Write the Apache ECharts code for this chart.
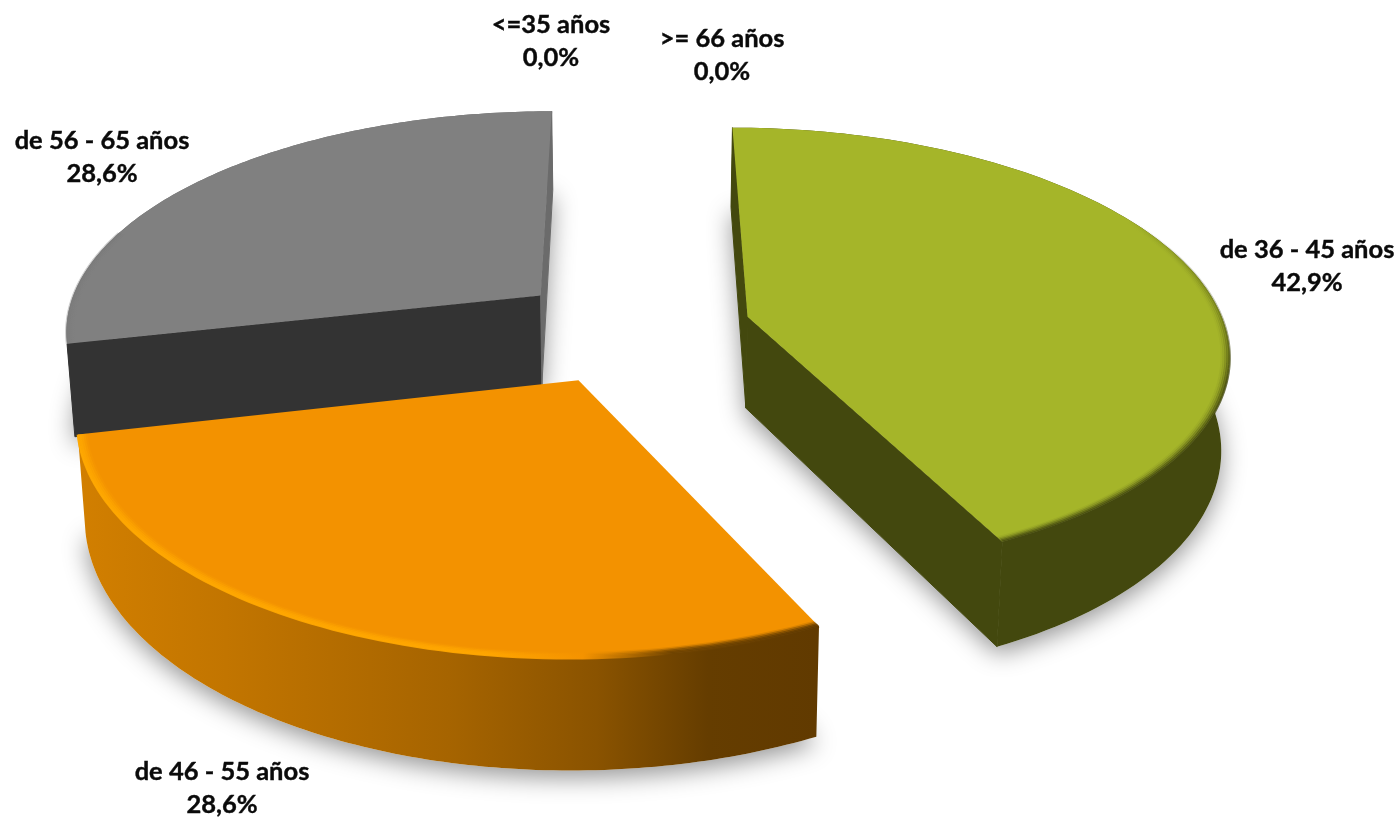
<!DOCTYPE html>
<html>
<head>
<meta charset="utf-8">
<script src="https://cdn.jsdelivr.net/npm/echarts@6/dist/echarts.min.js"></script>
<style>
  html, body { margin: 0; padding: 0; background: #ffffff; }
  #chart { width: 1399px; height: 819px; }
</style>
</head>
<body>
<div id="chart"></div>
<script>
// data
var categories = ['<=35 años', 'de 36 - 45 años', 'de 46 - 55 años', 'de 56 - 65 años', '>= 66 años'];
var shares = [0, 42.9, 28.6, 28.6, 0];

// look of each slice, same order as categories
var topColors = ['#808080', '#a5b529', '#f39200', '#808080', '#808080'];
var startCutColors = ['#333333', '#43480e', '#6a3f00', '#333333', '#333333'];
var endCutColors = ['#333333', '#43480e', '#6a3f00', '#6b6b6b', '#333333'];
var wallStops = [
  null,
  [[0, '#43480e'], [1, '#43480e']],
  [[0, '#d27f00'], [0.2, '#c27500'], [0.5, '#a66400'], [0.7, '#8a5300'], [0.85, '#653d00'], [1, '#613a00']],
  [[0, '#6b6b6b'], [1, '#6b6b6b']],
  null
];
var rimStops = [
  null,
  [[0, 'rgba(67,72,14,0)'], [0.3, 'rgba(67,72,14,0.45)'], [0.5, '#43480e'], [1, '#43480e']],
  [[0, '#ffa800'], [0.55, '#ffa600'], [0.68, '#f59300'], [0.8, '#6f4300'], [1, '#5f3900']],
  [[0, 'rgba(118,118,118,0.7)'], [1, 'rgba(118,118,118,0.7)']],
  null
];
var rimVertical = [false, true, false, true, false];
// where the rim runs, as part of the slice
var rimRanges = [null, [0.4, 1], [0, 1], [0, 0.3], null];
var rimFades = [
  null,
  [0.8, 0.6, 0.36, 0.18, 0.07],
  [0.95, 0.85, 0.65, 0.4, 0.15],
  [0.5, 0.4, 0.25, 0.12, 0.05],
  null
];
var labelCenters = [[551, 25], [1307, 250], [222, 772], [102, 141], [722, 39]];

// projection of the tilted plate
var vanishX = 629, vanishY = -1170;
var centerX = 632, centerY = 329;
var radiusX = 478, perspective = 0.147, explode = 0.25;
var depth = 92, lean = 0.014;

var total = shares.reduce(function (a, b) { return a + b; }, 0);

function angleOf(index) {
  var sum = 0;
  for (var i = 0; i < index; i++) sum += shares[i];
  return sum / total * Math.PI * 2;
}

function project(x, y) {
  var h = 1 / (1 + perspective * y);
  return {
    x: vanishX + (centerX - vanishX + radiusX * x) * h,
    y: vanishY + (centerY - vanishY) * h,
    h: h
  };
}

function lower(p) {
  return [p.x + (vanishX - p.x) * lean, p.y + depth * p.h];
}

function area(pts) {
  var s = 0;
  for (var i = 0; i < pts.length; i++) {
    var a = pts[i], b = pts[(i + 1) % pts.length];
    s += a[0] * b[1] - b[0] * a[1];
  }
  return s;
}

function gradient(stops, vertical) {
  return {
    type: 'linear', x: 0, y: 0, x2: vertical ? 0 : 1, y2: vertical ? 1 : 0,
    colorStops: stops.map(function (s) { return { offset: s[0], color: s[1] }; })
  };
}

function renderSlice(params, api) {
  var index = api.value(0);
  var value = api.value(1);
  var children = [];
  var center = labelCenters[index];

  children.push({
    type: 'text',
    z2: 300,
    style: {
      x: center[0], y: center[1] - 17,
      text: categories[index] + '\n' + value.toFixed(1).replace('.', ',') + '%',
      font: 'bold 25.5px Lato',
      lineHeight: 33,
      fill: '#0a0a0a',
      stroke: '#0a0a0a',
      lineWidth: 0.4,
      align: 'center',
      verticalAlign: 'top'
    }
  });
  if (value <= 0) {
    return { type: 'group', children: children };
  }

  var from = angleOf(index);
  var to = from + value / total * Math.PI * 2;
  var mid = (from + to) / 2;
  var ox = explode * Math.sin(mid), oy = explode * Math.cos(mid);
  var layer = 10 * Math.round((1 - Math.cos(mid)) * 10);

  var apex = project(ox, oy);
  var arcTop = [], arcLow = [];
  var steps = 120;
  for (var i = 0; i <= steps; i++) {
    var t = from + (to - from) * i / steps;
    var p = project(ox + Math.sin(t), oy + Math.cos(t));
    arcTop.push([p.x, p.y]);
    arcLow.push(lower(p));
  }
  var apexTop = [apex.x, apex.y], apexLow = lower(apex);

  // soft shadow under the slice
  children.push({
    type: 'polygon',
    z2: 1,
    shape: { points: [apexLow].concat(arcLow) },
    style: { fill: '#ffffff', shadowBlur: 24, shadowColor: 'rgba(0,0,0,0.42)', shadowOffsetY: 7 }
  });

  // outer wall
  children.push({
    type: 'polygon',
    z2: layer + 2,
    shape: { points: arcTop.concat(arcLow.slice().reverse()) },
    style: { fill: gradient(wallStops[index], false) }
  });

  // cut faces, only the ones turned to the viewer
  var startCut = [apexTop, arcTop[0], arcLow[0], apexLow];
  var endCut = [apexTop, arcTop[steps], arcLow[steps], apexLow];
  if (area(startCut) < 0) {
    children.push({
      type: 'polygon', z2: layer + 3, shape: { points: startCut },
      style: { fill: startCutColors[index], stroke: startCutColors[index], lineWidth: 1 }
    });
  }
  if (area(endCut) > 0) {
    children.push({
      type: 'polygon', z2: layer + 3, shape: { points: endCut },
      style: { fill: endCutColors[index], stroke: endCutColors[index], lineWidth: 1 }
    });
  }

  // top face
  children.push({
    type: 'polygon',
    z2: layer + 4,
    shape: { points: [apexTop].concat(arcTop) },
    style: { fill: topColors[index] }
  });

  // bevel at the rim, fading inwards
  var span = to - from;
  var rimFrom = from + span * rimRanges[index][0];
  var rimTo = from + span * rimRanges[index][1];
  rimFades[index].forEach(function (fade, b) {
    var r = 1 - b * 0.004;
    var pts = [];
    for (var j = 0; j <= 80; j++) {
      var a = rimFrom + (rimTo - rimFrom) * j / 80;
      var q = project(ox + r * Math.sin(a), oy + r * Math.cos(a));
      pts.push([q.x, q.y]);
    }
    children.push({
      type: 'polyline',
      z2: layer + 5,
      shape: { points: pts },
      style: { fill: null, stroke: gradient(rimStops[index], rimVertical[index]), lineWidth: 2.5, opacity: fade }
    });
  });

  return { type: 'group', children: children };
}

var chart = echarts.init(document.getElementById('chart'), null, { renderer: 'canvas' });
chart.setOption({
  backgroundColor: '#ffffff',
  animation: false,
  series: [{
    type: 'custom',
    coordinateSystem: 'none',
    silent: true,
    renderItem: renderSlice,
    data: shares.map(function (v, i) { return [i, v]; })
  }]
});
</script>
</body>
</html>
